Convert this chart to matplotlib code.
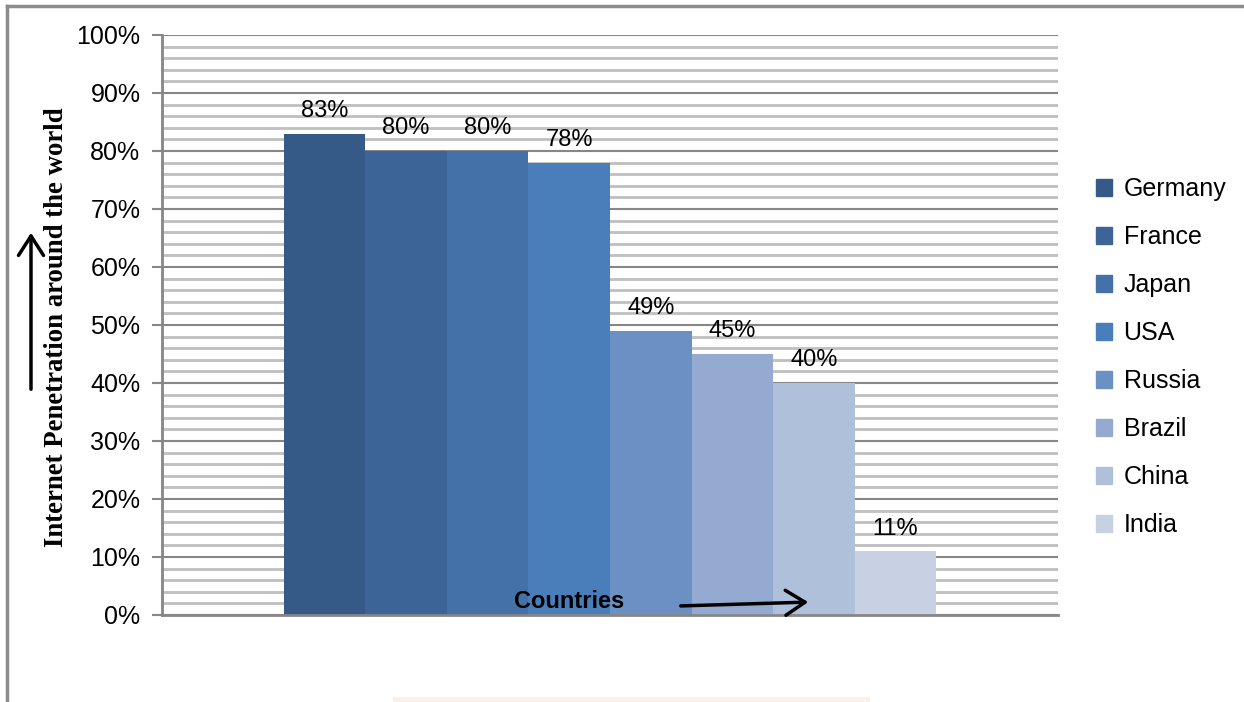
import numpy as np
import matplotlib
matplotlib.use("Agg")
import matplotlib.pyplot as plt
from matplotlib.patches import Rectangle, FancyArrowPatch
from matplotlib.lines import Line2D

countries = ["Germany", "France", "Japan", "USA", "Russia", "Brazil", "China", "India"]
penetration = [83, 80, 80, 78, 49, 45, 40, 11]
bar_colors = ["#365A87", "#3C6497", "#4472A8", "#4A7EBB", "#6B91C4", "#95AAD0", "#AFC0DB", "#C8D1E4"]
y_ticks = list(range(0, 101, 10))
y_labels = ["%d%%" % t for t in y_ticks]

plt.rcParams["font.family"] = ["Liberation Sans", "DejaVu Sans"]

W, H = 1244, 702
fig = plt.figure(figsize=(W / 100, H / 100), dpi=100)

# axes area in pixel coords
x0, x1, ytop, ybot = 162, 1058, 35, 615
ax = fig.add_axes([x0 / W, 1 - ybot / H, (x1 - x0) / W, (ybot - ytop) / H])

n = len(countries)
w = 0.0910
xs = 0.5 + (np.arange(n) - (n - 1) / 2) * w
bars = ax.bar(xs, penetration, width=w, color=bar_colors, zorder=3, linewidth=0)
for x, v in zip(xs, penetration):
    ax.text(x, v + 2.0, "%d%%" % v, ha="center", va="bottom", fontsize=17, color="black", zorder=4)

ax.set_xlim(0, 1)
ax.set_ylim(0, 100)
ax.set_yticks(y_ticks)
ax.set_yticklabels(y_labels, fontsize=18)
ax.set_yticks(np.arange(0, 101, 2), minor=True)
ax.set_xticks([])
ax.tick_params(axis="y", which="major", length=7, width=1.5, color="#868686", pad=8.5)
ax.tick_params(axis="y", which="minor", length=0)
ax.grid(axis="y", which="minor", color="#BFBFBF", linewidth=2)
ax.grid(axis="y", which="major", color="#868686", linewidth=1.5)
ax.set_axisbelow(True)
for s in ["top", "right"]:
    ax.spines[s].set_visible(False)
for s in ["left", "bottom"]:
    ax.spines[s].set_color("#868686")
    ax.spines[s].set_linewidth(2)
ax.spines["bottom"].set_zorder(5)

# legend
handles = [Rectangle((0, 0), 1, 1, color=c) for c in bar_colors]
fig.legend(handles, countries, loc="upper left", bbox_to_anchor=(1096 / W, 1 - 177 / H),
           frameon=False, fontsize=18, handlelength=0.65, handleheight=0.65,
           handletextpad=0.45, labelspacing=0.96, borderaxespad=0, borderpad=0)

# y axis title and arrow
fig.text(57 / W, 1 - 327 / H, "Internet Penetration around the world", rotation=90,
         ha="center", va="center", fontsize=19.3, fontweight="bold",
         family=["Liberation Serif", "DejaVu Serif"])
fig.add_artist(FancyArrowPatch((31 / W, 1 - 392 / H), (31 / W, 1 - 230 / H),
               transform=fig.transFigure, arrowstyle="->,head_length=7,head_width=4.5",
               mutation_scale=2, color="black", linewidth=2.5))

# x title and arrow
fig.text(569 / W, 1 - 602 / H, "Countries", ha="center", va="center", fontsize=17, fontweight="bold")
fig.add_artist(FancyArrowPatch((678 / W, 1 - 606 / H), (811 / W, 1 - 602 / H),
               transform=fig.transFigure, arrowstyle="->,head_length=7,head_width=4.5",
               mutation_scale=2, color="black", linewidth=2.5))

# outer frame and bottom strip
fig.add_artist(Line2D([7 / W, 7 / W], [0, 1 - 6 / H], transform=fig.transFigure, color="#8C8C8C", linewidth=2.5))
fig.add_artist(Line2D([7 / W, 1], [1 - 6 / H, 1 - 6 / H], transform=fig.transFigure, color="#8C8C8C", linewidth=2.5))
fig.add_artist(Rectangle((393 / W, 0), (870 - 393) / W, 5 / H, transform=fig.transFigure,
                         color="#FBF0E8", linewidth=0))

fig.savefig("out.png", dpi=100)
